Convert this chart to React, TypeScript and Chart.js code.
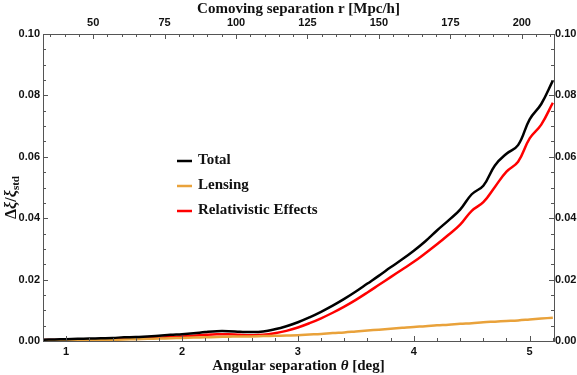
import React, { useEffect, useRef } from "react";
import { Chart, registerables } from "chart.js";

Chart.register(...registerables);

// Angular separation θ [deg]
const theta = [
  0.8, 0.9, 1.0, 1.1, 1.2, 1.3, 1.4, 1.5, 1.6, 1.7, 1.8, 1.9, 2.0, 2.1, 2.2,
  2.3, 2.4, 2.5, 2.6, 2.7, 2.8, 2.9, 3.0, 3.1, 3.2, 3.3, 3.4, 3.5, 3.6, 3.7,
  3.8, 3.9, 4.0, 4.1, 4.2, 4.3, 4.4, 4.5, 4.6, 4.7, 4.8, 4.9, 5.0, 5.1, 5.2,
];

const totalValues = [
  0.0004, 0.0005, 0.0006, 0.0007, 0.0008, 0.0009, 0.001, 0.0012, 0.0013,
  0.0015, 0.0017, 0.002, 0.0022, 0.0025, 0.0029, 0.0032, 0.0032, 0.003,
  0.0029, 0.0031, 0.0038, 0.0048, 0.0061, 0.0077, 0.0095, 0.0115, 0.0137,
  0.0161, 0.0187, 0.0213, 0.024, 0.0266, 0.0294, 0.0325, 0.036, 0.0393,
  0.0428, 0.0478, 0.0506, 0.0572, 0.061, 0.0638, 0.0722, 0.0772, 0.0848,
];

const lensingValues = [
  0.0001, 0.00015, 0.0002, 0.00025, 0.0003, 0.00035, 0.0004, 0.0005, 0.0006,
  0.0007, 0.0008, 0.0009, 0.001, 0.0011, 0.0012, 0.0013, 0.0014, 0.0015,
  0.0015, 0.0016, 0.0017, 0.0018, 0.0019, 0.0021, 0.0023, 0.0026, 0.0028,
  0.0031, 0.0034, 0.0037, 0.004, 0.0043, 0.0046, 0.0048, 0.0051, 0.0053,
  0.0056, 0.0058, 0.0061, 0.0063, 0.0065, 0.0067, 0.007, 0.0073, 0.0076,
];

const relativisticValues = [
  0.0003, 0.0003, 0.0004, 0.0005, 0.0005, 0.0006, 0.0007, 0.0008, 0.0009,
  0.001, 0.0011, 0.0013, 0.0015, 0.0017, 0.002, 0.0022, 0.0022, 0.002,
  0.0019, 0.002, 0.0025, 0.0033, 0.0044, 0.0058, 0.0074, 0.0092, 0.0112,
  0.0134, 0.0158, 0.0183, 0.0208, 0.0233, 0.0258, 0.0286, 0.0315, 0.0346,
  0.0379, 0.0424, 0.0452, 0.0502, 0.0552, 0.0584, 0.066, 0.0705, 0.0776,
];

const seriesLabels = ["Total", "Lensing", "Relativistic Effects"];
const seriesColors = ["#000000", "#E9A23B", "#FF0000"];

const thetaMin = 0.8;
const thetaMax = 5.21;
const mpcPerDeg = 40.55; // comoving separation per degree

const SERIF = "'Liberation Serif', 'Times New Roman', serif";
const SANS = "'Liberation Sans', Arial, sans-serif";
const FRAME = "#555555";

type Seg = { t: string; font: string; dy?: number };

function drawSegs(ctx: CanvasRenderingContext2D, segs: Seg[], cx: number, cy: number) {
  let total = 0;
  for (const s of segs) {
    ctx.font = s.font;
    total += ctx.measureText(s.t).width;
  }
  let x = cx - total / 2;
  ctx.textBaseline = "middle";
  ctx.textAlign = "left";
  for (const s of segs) {
    ctx.font = s.font;
    ctx.fillText(s.t, x, cy + (s.dy || 0));
    x += ctx.measureText(s.t).width;
  }
}

const decorPlugin = {
  id: "decor",
  afterDraw(chart: any) {
    const { ctx, chartArea: a, scales } = chart;
    ctx.save();
    ctx.strokeStyle = FRAME;
    ctx.lineWidth = 1;

    const tickX = (scale: any, step: number, minorPer: number, major: number, minor: number) => {
      const start = Math.ceil(scale.min / (step / minorPer));
      const end = Math.floor(scale.max / (step / minorPer));
      for (let i = start; i <= end; i++) {
        const v = (i * step) / minorPer;
        const px = Math.round(scale.getPixelForValue(v)) + 0.5;
        const len = i % minorPer === 0 ? major : minor;
        ctx.beginPath();
        if (scale.position === "bottom") {
          ctx.moveTo(px, a.bottom);
          ctx.lineTo(px, a.bottom - len);
        } else {
          ctx.moveTo(px, a.top);
          ctx.lineTo(px, a.top + len);
        }
        ctx.stroke();
      }
    };
    const tickY = (scale: any, step: number, minorPer: number, major: number, minor: number) => {
      const n = Math.round((scale.max - scale.min) / (step / minorPer));
      for (let i = 0; i <= n; i++) {
        const v = scale.min + (i * step) / minorPer;
        const py = Math.round(scale.getPixelForValue(v)) + 0.5;
        const len = i % minorPer === 0 ? major : minor;
        ctx.beginPath();
        if (scale.position === "left") {
          ctx.moveTo(a.left, py);
          ctx.lineTo(a.left + len, py);
        } else {
          ctx.moveTo(a.right, py);
          ctx.lineTo(a.right - len, py);
        }
        ctx.stroke();
      }
    };
    tickX(scales.x, 1, 5, 5, 3);
    tickX(scales.x2, 25, 5, 5, 3);
    tickY(scales.y, 0.02, 4, 5, 3);
    tickY(scales.y2, 0.02, 4, 5, 3);

    // Titles
    ctx.fillStyle = "#111";
    const cx = (a.left + a.right) / 2;
    drawSegs(ctx, [{ t: "Comoving separation r [Mpc/h]", font: `bold 15px ${SERIF}` }], cx, 9);
    drawSegs(
      ctx,
      [
        { t: "Angular separation ", font: `bold 15px ${SERIF}` },
        { t: "θ", font: `italic bold 15px ${SERIF}` },
        { t: " [deg]", font: `bold 15px ${SERIF}` },
      ],
      cx,
      a.bottom + 25
    );
    ctx.save();
    ctx.translate(12, (a.top + a.bottom) / 2 + 10);
    ctx.rotate(-Math.PI / 2);
    drawSegs(
      ctx,
      [
        { t: "Δ", font: `bold 16px ${SERIF}` },
        { t: "ξ", font: `italic bold 16px ${SERIF}` },
        { t: "/", font: `bold 16px ${SERIF}` },
        { t: "ξ", font: `italic bold 16px ${SERIF}` },
        { t: "std", font: `bold 11px ${SERIF}`, dy: 4 },
      ],
      0,
      0
    );
    ctx.restore();

    // Legend
    const lx = a.left + 134;
    const ly = a.top + 126;
    chart.data.datasets.forEach((ds: any, i: number) => {
      const y = ly + i * 25;
      ctx.strokeStyle = ds.borderColor;
      ctx.lineWidth = 2.5;
      ctx.beginPath();
      ctx.moveTo(lx, y + 1);
      ctx.lineTo(lx + 15, y + 1);
      ctx.stroke();
      ctx.fillStyle = "#111";
      ctx.font = `bold 15px ${SERIF}`;
      ctx.textAlign = "left";
      ctx.textBaseline = "middle";
      ctx.fillText(ds.label, lx + 21, y);
    });
    ctx.restore();
  },
};

export default function App() {
  const ref = useRef<HTMLCanvasElement | null>(null);

  useEffect(() => {
    document.body.style.margin = "0";
    if (!ref.current) return;
    const values = [totalValues, lensingValues, relativisticValues];
    const tickFont = { family: SANS, size: 11, weight: "bold" as const };
    const chart = new Chart(ref.current, {
      type: "line",
      data: {
        datasets: values.map((vals, i) => ({
          label: seriesLabels[i],
          data: theta.map((t, j) => ({ x: t, y: vals[j] })),
          borderColor: seriesColors[i],
          backgroundColor: seriesColors[i],
          borderWidth: 2.5,
          pointRadius: 0,
          tension: 0.4,
          fill: false,
        })),
      },
      options: {
        animation: false,
        responsive: false,
        devicePixelRatio: 1,
        layout: { padding: 0 },
        plugins: { legend: { display: false }, tooltip: { enabled: false }, title: { display: false } },
        scales: {
          x: {
            type: "linear",
            position: "bottom",
            min: thetaMin,
            max: thetaMax,
            afterFit: (s: any) => { s.height = 34; },
            grid: { display: false, drawTicks: false },
            border: { display: true, color: FRAME, width: 1 },
            ticks: {
              stepSize: 1,
              includeBounds: false,
              padding: 4,
              color: "#111",
              font: tickFont,
              maxRotation: 0,
              callback: (v: any) => String(Math.round(Number(v))),
            },
          },
          x2: {
            type: "linear",
            position: "top",
            min: thetaMin * mpcPerDeg,
            max: thetaMax * mpcPerDeg,
            afterFit: (s: any) => { s.height = 34; },
            grid: { display: false, drawTicks: false },
            border: { display: true, color: FRAME, width: 1 },
            ticks: {
              stepSize: 25,
              includeBounds: false,
              padding: 4,
              color: "#111",
              font: tickFont,
              maxRotation: 0,
              callback: (v: any) => String(Math.round(Number(v))),
            },
          },
          y: {
            type: "linear",
            position: "left",
            min: 0,
            max: 0.1,
            afterFit: (s: any) => { s.width = 43; },
            grid: { display: false, drawTicks: false },
            border: { display: true, color: FRAME, width: 1 },
            ticks: {
              stepSize: 0.02,
              padding: 3,
              color: "#111",
              font: tickFont,
              callback: (v: any) => Number(v).toFixed(2),
            },
          },
          y2: {
            type: "linear",
            position: "right",
            min: 0,
            max: 0.1,
            afterFit: (s: any) => { s.width = 23; },
            grid: { display: false, drawTicks: false },
            border: { display: true, color: FRAME, width: 1 },
            ticks: {
              stepSize: 0.02,
              padding: 1,
              color: "#111",
              font: tickFont,
              callback: (v: any) => Number(v).toFixed(2),
            },
          },
        },
      },
      plugins: [decorPlugin],
    } as any);
    return () => chart.destroy();
  }, []);

  return (
    <div style={{ width: 577, height: 375 }}>
      <canvas ref={ref} width={577} height={375} />
    </div>
  );
}
